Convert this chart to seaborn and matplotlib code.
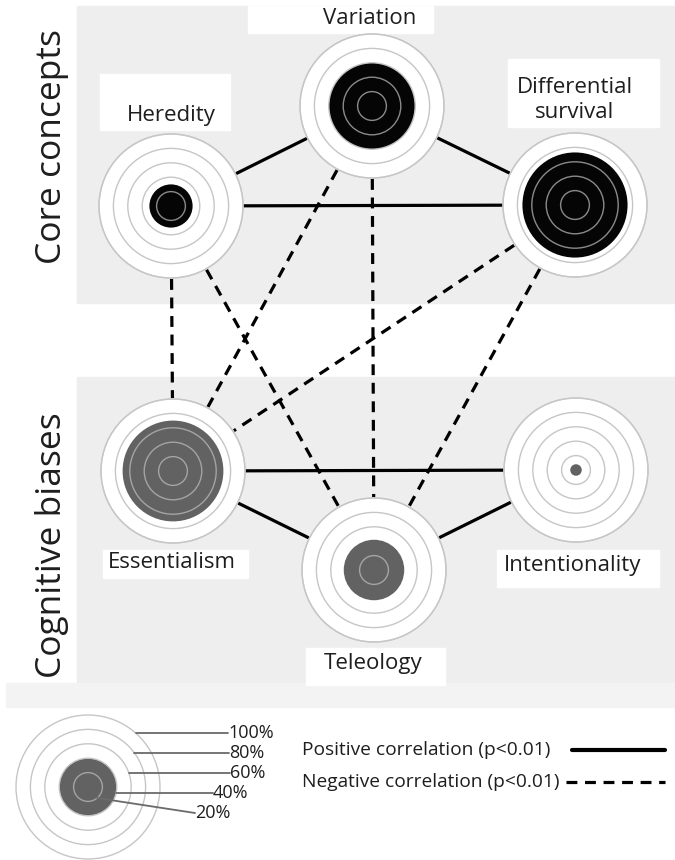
# concept map of core evolution concepts vs cognitive biases
# each node is a target: filled disc = share of students (%), rings = 20..100%

import numpy as np
import pandas as pd
import matplotlib.pyplot as plt
from matplotlib.patches import Circle, Rectangle
import seaborn as sns

# ---- data ----
node_names = ["Heredity", "Variation", "Differential\nsurvival",
              "Essentialism", "Teleology", "Intentionality"]
node_group = ["core", "core", "core", "bias", "bias", "bias"]
node_share = [30, 60, 73, 70, 42, 8]          # percent

edge_from = ["Heredity", "Heredity", "Variation",
             "Essentialism", "Essentialism", "Teleology",
             "Heredity", "Heredity", "Variation", "Variation",
             "Differential\nsurvival", "Differential\nsurvival"]
edge_to = ["Variation", "Differential\nsurvival", "Differential\nsurvival",
           "Intentionality", "Teleology", "Intentionality",
           "Essentialism", "Teleology", "Essentialism", "Teleology",
           "Essentialism", "Teleology"]
edge_sign = ["positive"] * 6 + ["negative"] * 6

ring_levels = [20, 40, 60, 80, 100]
ring_labels = ["20%", "40%", "60%", "80%", "100%"]
legend_share = 40
panel_titles = ["Core concepts", "Cognitive biases"]
line_legend = ["Positive correlation (p<0.01)", "Negative correlation (p<0.01)"]

# ---- layout (pixel space of a 675x860 canvas) ----
node_x = [171, 372, 575, 173, 374, 576]
node_y = [206, 106, 205, 471, 570, 470]
label_xy = [(171, 116), (370, 18), (575, 100), (172, 563), (373, 664), (573, 565)]
label_box = [(100, 74, 130, 56), (248, 6, 185, 27), (508, 59, 151, 68),
             (103, 550, 145, 28), (306, 648, 139, 37), (497, 550, 162, 37)]
R = 72  # radius of the 100% ring
PANEL = "#eeeeee"
BLACK = "#050505"
GRAY = "#626262"
TEXT = "#1e1e1e"

sns.set_theme(style="white")
plt.rcParams["font.family"] = ["Open Sans", "DejaVu Sans"]

fig = plt.figure(figsize=(6.75, 8.6), dpi=100)
ax = fig.add_axes([0, 0, 1, 1])

# background panels
ax.add_patch(Rectangle((77, 6), 598, 297, color=PANEL, zorder=0))
ax.add_patch(Rectangle((77, 377), 598, 306, color=PANEL, zorder=0))
ax.add_patch(Rectangle((6, 683), 669, 24, color="#f3f3f3", zorder=0))

ax.text(52, 147, panel_titles[0], rotation=90, ha="center", va="center",
        fontsize=25.5, color=TEXT)
ax.text(52, 545, panel_titles[1], rotation=90, ha="center", va="center",
        fontsize=25.5, color=TEXT)

# edges, trimmed to the outer ring of each node
pos = {n: (x, y) for n, x, y in zip(node_names, node_x, node_y)}
rows = []
for i, (a, b, s) in enumerate(zip(edge_from, edge_to, edge_sign)):
    p, q = np.array(pos[a], float), np.array(pos[b], float)
    d = (q - p) / np.linalg.norm(q - p)
    for pt in (p + d * (R + 1), q - d * (R + 1)):
        rows.append({"x": pt[0], "y": pt[1], "edge": i, "sign": s})
edges = pd.DataFrame(rows)

sns.lineplot(data=edges, x="x", y="y", units="edge", estimator=None,
             style="sign", dashes={"positive": "", "negative": (3.4, 2.4)},
             color="black", linewidth=2.3, sort=False, legend=False, ax=ax,
             zorder=1)


def draw_target(cx, cy, share, fill, white_bg=True):
    if white_bg:
        ax.add_patch(Circle((cx, cy), R, facecolor="white",
                            edgecolor="#cfcfcf", lw=1.0, zorder=2))
    fr = share / 100 * R
    ax.add_patch(Circle((cx, cy), fr, facecolor=fill, edgecolor="none",
                        zorder=3))
    for lv in ring_levels:
        r = lv / 100 * R
        if fr - 3 <= r < fr:
            continue  # ring sits on the edge of the filled disc
        if r < fr:
            c = "#8a8a8a" if fill == BLACK else "#a4a4a4"
        else:
            c = "#c6c6c6"
        ax.add_patch(Circle((cx, cy), r, facecolor="none", edgecolor=c,
                            lw=1.0, zorder=4))


for name, grp, share, x, y, (tx, ty), box in zip(
        node_names, node_group, node_share, node_x, node_y, label_xy, label_box):
    draw_target(x, y, share, BLACK if grp == "core" else GRAY)
    ax.add_patch(Rectangle(box[:2], box[2], box[3], color="white", zorder=1.5))
    ax.text(tx, ty, name, ha="center", va="center", fontsize=16,
            color=TEXT, linespacing=1.3, zorder=6)

# ---- size legend ----
lcx, lcy = 88, 787
draw_target(lcx, lcy, legend_share, GRAY, white_bg=False)
lab_x = [195, 213, 230, 229, 228]
lab_y = [813, 793, 773, 753, 733]
for lv, txt, lx, ly in zip(ring_levels, ring_labels, lab_x, lab_y):
    r = lv / 100 * R
    if abs(ly - lcy) < r:
        sx, sy = lcx + np.sqrt(r ** 2 - (ly - lcy) ** 2), ly
    else:
        ang = np.deg2rad(50)
        sx, sy = lcx + r * np.cos(ang), lcy + r * np.sin(ang)
    ax.plot([sx, lx], [sy, ly], color="#6a6a6a", lw=1.3, zorder=5)
    ax.text(lx, ly, txt, ha="left", va="center", fontsize=13,
            color=TEXT, zorder=6)

# ---- line legend ----
ax.text(302, 750, line_legend[0], ha="left", va="center", fontsize=13.8,
        color=TEXT)
ax.text(302, 782, line_legend[1], ha="left", va="center", fontsize=13.8,
        color=TEXT)
ax.plot([572, 665], [750, 750], color="black", lw=3)
ax.plot([566, 665], [782, 782], color="black", lw=2.3, dashes=(3.4, 2.4))

ax.set_xlim(0, 675)
ax.set_ylim(860, 0)
ax.set_aspect("equal")
ax.axis("off")

fig.savefig("out.png", dpi=100, facecolor="white")
